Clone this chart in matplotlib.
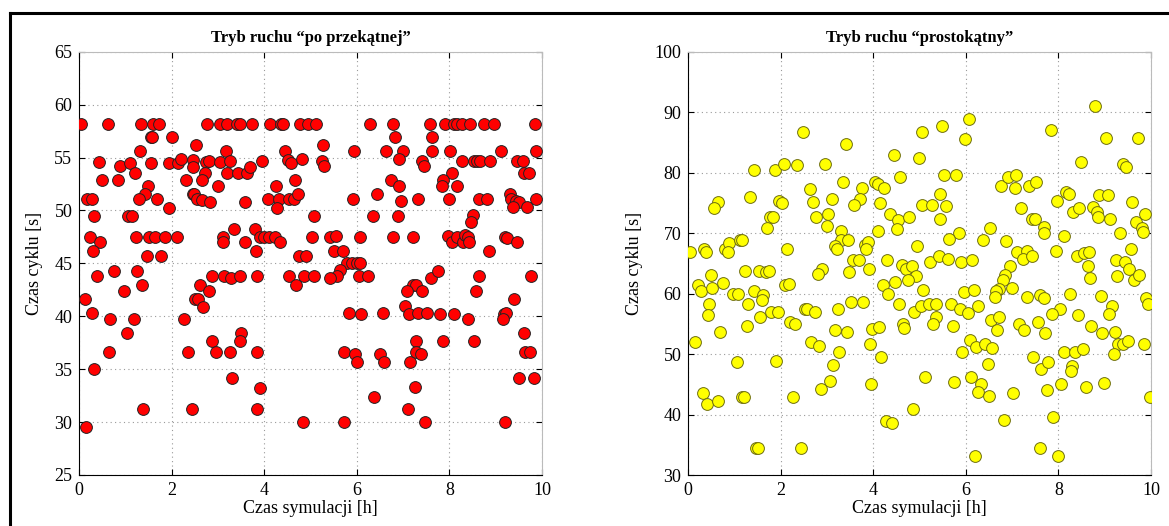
import matplotlib
matplotlib.use("Agg")
import matplotlib.pyplot as plt
from matplotlib.lines import Line2D

# ---- Left panel: "po przekątnej" ----
diag_x = [
    0.04, 0.61, 1.34, 1.59, 1.72, 1.54, 2.01, 1.57, 1.32, 0.43, 0.87, 1.10, 1.54, 1.93, 2.14, 2.20,
    2.45, 2.45, 1.20, 0.49, 0.84, 2.31, 1.48, 1.43, 0.17, 0.27, 1.28, 1.67, 2.45, 1.93, 0.32, 1.05,
    1.13, 0.23, 1.23, 1.51, 1.63, 1.85, 2.11, 0.45, 0.29, 1.46, 1.76, 0.76, 1.25, 0.39, 1.36, 0.97,
    0.12, 0.27, 0.67, 1.18, 2.27, 1.03, 0.65, 2.34, 0.31, 1.38, 2.43, 0.14, 2.50,
    2.76, 3.05, 3.19, 3.41, 3.48, 3.73, 4.13, 4.35, 4.40, 4.78, 2.53, 2.73, 2.80, 3.04, 3.16, 3.25,
    3.20, 3.42, 3.63, 3.68, 3.95, 2.71, 2.65, 2.99, 2.47, 2.55, 2.65, 2.83, 3.58, 4.07, 4.31, 4.27,
    4.53, 4.63, 4.26, 4.45, 4.50, 4.58, 4.82, 4.66, 4.73, 3.10, 3.10, 3.35, 3.59, 3.79, 3.90, 4.00,
    4.11, 4.22, 4.33, 3.82, 4.74, 4.89, 2.87, 3.12, 3.28, 3.47, 3.84, 4.54, 4.68, 4.85, 2.60, 2.81,
    2.57, 2.67, 2.86, 2.95, 3.25, 3.50, 3.48, 3.84, 3.30, 3.91, 3.84, 4.84,
    4.95, 5.12, 6.29, 6.79, 7.58, 5.27, 5.93, 6.63, 6.82, 6.99, 6.92, 7.62, 7.62, 7.40, 7.44, 5.24,
    5.29, 6.73, 6.90, 6.43, 5.91, 6.96, 7.33, 5.08, 6.34, 6.88, 5.03, 5.42, 5.55, 6.07, 6.78, 7.21,
    5.50, 5.70, 5.78, 5.89, 6.00, 6.07, 5.64, 5.57, 5.41, 5.08, 6.04, 6.23, 7.22, 7.28, 7.08, 7.40,
    7.60, 7.04, 7.13, 7.32, 7.51, 5.82, 6.09, 6.56, 5.73, 5.96, 6.01, 6.50, 6.59, 7.15, 7.28, 7.28,
    7.38, 6.36, 7.26, 7.10, 5.71, 7.48,
    7.91, 8.09, 8.16, 8.27, 8.45, 8.75, 8.96, 9.85, 8.01, 8.28, 8.52, 8.59, 8.65, 8.88, 9.12, 9.87,
    9.47, 9.60, 9.62, 9.72, 8.05, 7.86, 7.84, 8.17, 7.99, 8.63, 8.82, 9.31, 9.33, 9.44, 9.51, 9.38,
    9.68, 9.88, 8.50, 8.46, 7.96, 8.06, 8.17, 8.30, 8.34, 8.39, 8.43, 8.86, 9.20, 9.25, 9.47, 7.76,
    8.64, 8.58, 9.77, 9.40, 7.80, 8.10, 8.39, 9.17, 9.22, 9.15, 7.86, 8.52, 9.62, 9.63, 9.74, 9.51,
    9.83, 9.20,
]
diag_y = [
    58.2, 58.2, 58.2, 58.2, 58.2, 56.9, 56.9, 56.9, 55.6, 54.6, 54.2, 54.5, 54.5, 54.5, 54.5, 54.9,
    54.8, 54.1, 53.5, 52.85, 52.85, 52.85, 52.3, 51.6, 51.05, 51.05, 51.05, 51.05, 51.6, 50.2, 49.5, 49.5,
    49.5, 47.5, 47.5, 47.5, 47.5, 47.5, 47.5, 47.0, 46.2, 45.7, 45.7, 44.3, 44.3, 43.85, 43.0, 42.4,
    41.6, 40.3, 39.7, 39.7, 39.7, 38.4, 36.6, 36.6, 35.0, 31.25, 31.25, 29.55, 41.6,
    58.2, 58.2, 58.2, 58.2, 58.2, 58.2, 58.2, 58.2, 58.2, 58.2, 56.2, 54.6, 54.7, 54.6, 55.6, 54.7,
    53.5, 53.5, 53.5, 54.1, 54.7, 53.5, 52.85, 52.3, 51.6, 51.05, 50.95, 50.8, 50.8, 51.05, 51.05, 50.25,
    51.05, 51.05, 52.3, 55.6, 54.8, 54.5, 54.9, 52.85, 51.55, 47.5, 47.0, 48.25, 47.0, 48.25, 47.5, 47.5,
    47.5, 47.5, 47.0, 46.2, 45.7, 45.7, 43.85, 43.85, 43.65, 43.85, 43.85, 43.85, 43.0, 43.85, 43.0, 42.4,
    41.6, 40.9, 37.7, 36.6, 36.6, 38.4, 37.7, 36.6, 34.2, 33.2, 31.25, 30.0,
    58.2, 58.2, 58.2, 58.2, 58.2, 56.2, 55.6, 55.6, 56.9, 55.6, 54.9, 56.9, 55.6, 54.7, 54.2, 54.7,
    54.2, 52.85, 52.3, 51.6, 51.05, 50.9, 51.05, 49.5, 49.5, 49.5, 47.5, 47.5, 47.55, 47.5, 47.5, 47.5,
    46.2, 46.2, 45.0, 45.0, 45.0, 45.0, 44.35, 43.85, 43.65, 43.85, 43.85, 43.85, 43.0, 43.0, 42.4, 42.4,
    43.65, 40.95, 40.2, 40.3, 40.3, 40.3, 40.2, 40.3, 36.6, 36.4, 35.65, 36.4, 35.65, 35.65, 37.7, 36.6,
    36.4, 32.35, 33.3, 31.25, 30.0, 30.0,
    58.2, 58.2, 58.2, 58.2, 58.2, 58.2, 58.2, 58.2, 55.6, 54.7, 54.7, 54.7, 54.7, 54.7, 55.6, 55.6,
    54.7, 54.7, 53.5, 53.5, 53.5, 52.9, 52.3, 52.3, 51.05, 51.05, 51.05, 51.6, 51.05, 50.9, 50.8, 50.3,
    50.3, 51.05, 49.6, 48.95, 47.6, 47.0, 47.5, 47.0, 47.7, 47.5, 47.0, 46.2, 47.5, 47.4, 47.0, 44.3,
    43.85, 42.4, 43.85, 41.6, 40.2, 40.2, 39.7, 40.2, 40.3, 39.7, 37.7, 37.7, 38.4, 36.6, 36.6, 34.2,
    34.2, 30.0,
]

# ---- Right panel: "prostokątny" ----
rect_x = [
    0.04, 0.34, 0.38, 0.64, 0.56, 0.79, 0.88, 0.85, 1.12, 1.16, 1.41, 1.34, 1.88, 2.07, 2.35, 2.48,
    1.95, 2.02, 1.77, 1.84, 1.70, 2.13, 0.48, 0.22, 0.27, 0.52, 0.74, 1.23, 1.52, 1.68, 1.75, 0.97,
    1.07, 1.42, 1.62, 1.59, 1.30, 1.78, 1.93, 1.54, 1.26, 0.45, 0.43, 0.69, 2.08, 2.18, 2.20, 2.31,
    2.53, 0.14, 1.05, 1.89, 0.31, 0.41, 0.65, 1.16, 1.20, 2.27, 1.47, 1.50, 2.43,
    3.40, 2.95, 4.45, 4.99, 5.05, 2.63, 2.70, 3.10, 3.35, 3.75, 3.71, 3.58, 4.04, 4.09, 4.24, 4.14,
    4.58, 5.05, 2.77, 3.03, 3.00, 3.31, 3.29, 3.46, 3.16, 3.21, 3.82, 3.89, 3.84, 4.09, 4.36, 4.54,
    4.76, 4.51, 4.94, 2.90, 2.81, 3.55, 3.68, 3.48, 3.91, 4.29, 4.61, 4.71, 4.84, 4.92, 4.74, 4.47,
    4.20, 4.32, 5.07, 2.56, 2.74, 3.24, 3.52, 3.77, 4.56, 4.88, 5.03, 3.18, 3.42, 3.98, 4.12, 4.65,
    4.66, 2.66, 2.83, 3.26, 3.93, 4.17, 3.12, 3.06, 2.86, 3.94, 5.12, 4.85, 4.27, 4.41,
    6.07, 5.99, 5.49, 5.53, 5.79, 5.43, 5.26, 5.57, 5.45, 5.84, 5.64, 5.23, 5.41, 5.62, 5.89, 6.14,
    6.51, 6.37, 6.76, 6.92, 7.08, 7.05, 7.19, 7.36, 7.52, 7.43, 7.50, 7.68, 7.68, 6.87, 7.10, 7.31,
    7.23, 7.43, 6.95, 6.85, 6.80, 6.72, 6.64, 6.62, 7.00, 7.33, 7.60, 5.21, 5.35, 5.68, 5.88, 6.04,
    5.95, 6.18, 6.27, 5.36, 5.28, 5.72, 6.54, 6.71, 6.67, 7.14, 7.26, 7.55, 7.70, 6.09, 5.91, 6.22,
    6.42, 6.56, 6.47, 5.75, 6.11, 6.33, 6.27, 6.49, 7.02, 7.45, 7.62, 7.75, 6.83, 6.20, 7.61,
    8.79, 7.84, 9.03, 9.71, 8.48, 9.39, 9.47, 7.96, 8.17, 8.22, 8.32, 8.45, 8.74, 8.83, 8.86, 8.88,
    9.08, 9.12, 9.58, 9.87, 9.67, 9.80, 9.83, 9.33, 8.11, 7.94, 8.40, 8.56, 8.67, 8.63, 8.68, 9.24,
    9.44, 9.53, 9.56, 9.27, 9.64, 9.75, 8.24, 8.91, 7.68, 9.89, 9.94, 9.15, 9.10, 8.04, 7.87, 8.42,
    8.71, 8.95, 9.22, 9.29, 9.40, 9.51, 9.85, 9.19, 8.12, 8.36, 8.52, 8.30, 8.27, 7.77, 8.06, 8.60,
    8.99, 9.98, 7.89, 8.00,
]
rect_y = [
    66.8, 67.4, 66.8, 75.2, 74.1, 67.3, 68.3, 66.8, 68.9, 68.9, 80.4, 76.0, 80.4, 81.5, 81.2, 86.7,
    75.3, 74.9, 72.6, 72.7, 70.9, 67.4, 63.1, 61.5, 60.4, 61.0, 61.7, 63.7, 63.7, 63.5, 63.7, 59.9,
    60.0, 60.5, 59.7, 59.0, 58.2, 56.9, 56.9, 56.1, 54.7, 58.2, 56.4, 53.6, 61.5, 61.6, 55.3, 54.9,
    57.5, 52.0, 48.7, 48.8, 43.5, 41.8, 42.2, 42.9, 42.9, 42.9, 34.5, 34.5, 34.5,
    84.7, 81.4, 82.9, 82.5, 86.7, 77.3, 75.2, 75.6, 78.5, 77.4, 75.6, 74.6, 78.5, 78.1, 77.4, 75.0,
    79.2, 74.6, 72.7, 73.1, 71.1, 70.4, 68.9, 68.8, 67.8, 67.4, 68.0, 68.5, 67.4, 70.4, 73.2, 72.2,
    72.7, 70.6, 67.9, 64.1, 63.3, 65.5, 65.5, 63.5, 64.1, 65.5, 64.7, 64.1, 64.5, 62.9, 62.3, 61.9,
    61.5, 60.0, 60.6, 57.5, 56.9, 57.5, 58.6, 58.6, 58.2, 56.9, 57.9, 54.0, 53.7, 54.1, 54.5, 54.9,
    54.3, 52.0, 51.4, 50.3, 51.6, 49.5, 48.2, 45.5, 44.2, 45.1, 46.2, 40.9, 39.0, 38.6,
    88.8, 85.5, 87.7, 79.6, 79.6, 76.4, 74.7, 74.5, 72.3, 70.1, 69.0, 65.2, 66.2, 65.8, 65.2, 65.5,
    70.9, 68.9, 77.8, 79.2, 79.6, 77.4, 74.1, 77.8, 78.5, 72.3, 72.3, 71.0, 70.0, 68.7, 66.8, 67.0,
    65.8, 66.2, 64.5, 63.1, 62.3, 60.8, 60.5, 59.5, 60.9, 59.5, 59.8, 58.3, 58.2, 58.3, 57.5, 56.8,
    60.3, 60.6, 57.9, 56.1, 55.0, 54.6, 55.6, 56.2, 53.9, 55.0, 54.0, 55.3, 53.4, 52.4, 50.3, 51.1,
    51.7, 51.0, 48.3, 45.4, 46.2, 45.0, 43.7, 43.1, 43.5, 49.5, 47.6, 44.0, 39.1, 33.1, 34.5,
    91.0, 87.0, 85.75, 85.75, 81.8, 81.4, 81.0, 75.3, 76.8, 76.5, 73.5, 74.1, 74.4, 73.5, 72.6, 76.3,
    76.3, 72.3, 75.2, 73.2, 71.8, 70.9, 70.2, 70.0, 69.6, 67.0, 66.2, 66.7, 66.8, 64.5, 62.5, 65.5,
    65.2, 64.1, 67.3, 62.9, 62.3, 63.1, 59.9, 59.6, 59.3, 59.3, 58.3, 57.9, 56.6, 57.5, 56.6, 56.5,
    54.6, 53.4, 53.6, 51.7, 51.7, 52.1, 51.7, 50.0, 50.3, 50.3, 50.9, 48.1, 47.2, 48.7, 45.0, 44.5,
    45.2, 42.9, 39.6, 33.1,
]

titles = ["Tryb ruchu \u201cpo przek\u0105tnej\u201d", "Tryb ruchu \u201cprostok\u0105tny\u201d"]
xlabel = "Czas symulacji [h]"
ylabel = "Czas cyklu [s]"
xticks = [0, 2, 4, 6, 8, 10]
left_yticks = [25, 30, 35, 40, 45, 50, 55, 60, 65]
right_yticks = [30, 40, 50, 60, 70, 80, 90, 100]

plt.rcParams['font.family'] = ['Liberation Serif', 'DejaVu Serif']
plt.rcParams['mathtext.fontset'] = 'stix'

fig = plt.figure(figsize=(11.69, 5.26), dpi=100)
W, H = 1169, 526

def make_ax(left_px, xs, ys, face, edge, yticks, title):
    ax = fig.add_axes([left_px / W, 1 - 475 / H, 462.7 / W, 423.3 / H])
    ax.scatter(xs, ys, s=72, c=face, edgecolors=edge, linewidths=0.7, zorder=3)
    ax.set_xlim(0, 10)
    ax.set_ylim(yticks[0], yticks[-1])
    ax.set_xticks(xticks)
    ax.set_yticks(yticks)
    ax.grid(True, linestyle=(0, (1, 3)), color='#9a9a9a', linewidth=0.8)
    ax.set_axisbelow(True)
    ax.tick_params(direction='in', top=True, right=True, length=4, width=0.8,
                   labelsize=13, pad=5)
    for sp in ax.spines.values():
        sp.set_visible(True)
        sp.set_linewidth(0.8)
    ax.spines['top'].set_color('#bbbbbb')
    ax.spines['right'].set_color('#bbbbbb')
    ax.set_title(title, fontsize=12, fontweight='bold', pad=7)
    ax.set_xlabel(xlabel, fontsize=13, labelpad=1)
    ax.set_ylabel(ylabel, fontsize=13, labelpad=8)
    return ax

make_ax(79.3, diag_x, diag_y, '#ff0000', '#222222', left_yticks, titles[0])
make_ax(688.3, rect_x, rect_y, '#ffff00', '#6e6e10', right_yticks, titles[1])

# outer frame (left and top edges)
fig.add_artist(Line2D([10 / W, 10 / W], [0, 1 - 13 / H], transform=fig.transFigure,
                      color='black', linewidth=2.2))
fig.add_artist(Line2D([10 / W, 1], [1 - 13 / H, 1 - 13 / H], transform=fig.transFigure,
                      color='black', linewidth=2.2))

fig.savefig("out.png", dpi=100)
